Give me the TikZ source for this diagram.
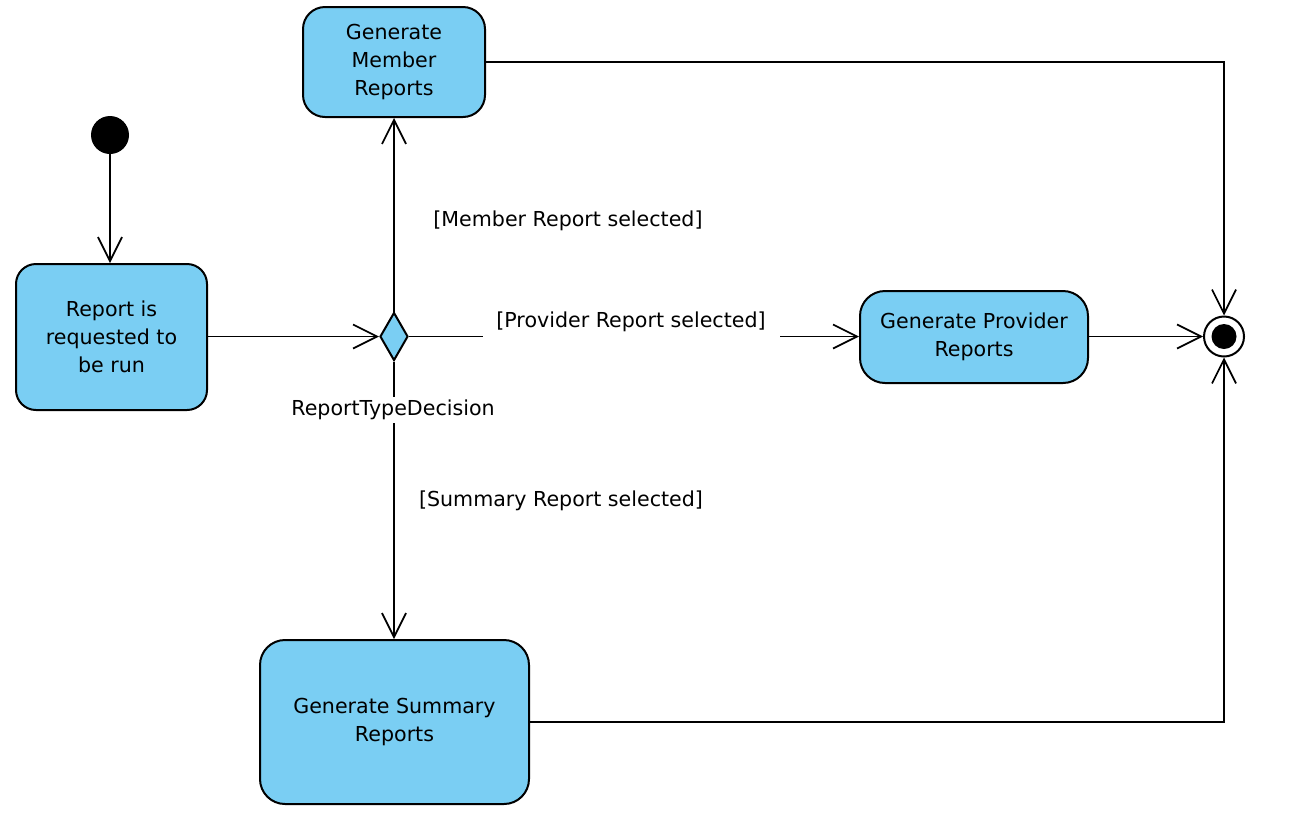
\documentclass[tikz,border=0pt]{standalone}
\usepackage{fontspec}
\setmainfont{DejaVu Sans}
\usetikzlibrary{shapes.geometric,arrows.meta}
\definecolor{actblue}{RGB}{122,206,243}
\tikzset{
  act/.style={draw=black, line width=2pt, fill=actblue, rounded corners=#1, align=center, inner sep=0pt},
  flow/.style={draw=black, line width=1.7pt, -{Straight Barb[length=24pt,width=24pt,line width=1.7pt]}},
  guard/.style={inner sep=0pt, fill=white},
}
\begin{document}
\begin{tikzpicture}[x=1pt,y=-1pt,font=\fontsize{20.6}{28}\selectfont]
\useasboundingbox (0,0) rectangle (1308,820);
% nodes
\node[circle, fill=black, minimum size=38pt, inner sep=0pt] (init) at (110,135) {};
\node[act=20pt, minimum width=191pt, minimum height=146pt] (req) at (111.5,337) {Report is\\requested to\\be run};
\node[diamond, draw=black, line width=2pt, fill=actblue, minimum width=28pt, minimum height=48pt, inner sep=0pt] (dec) at (394,336.5) {};
\node[act=22pt, minimum width=182pt, minimum height=110pt] (member) at (394,62) {Generate\\Member\\Reports};
\node[act=25pt, minimum width=228pt, minimum height=92pt] (provider) at (974,337) {Generate Provider\\Reports};
\node[act=25pt, minimum width=269pt, minimum height=164pt] (summary) at (394.5,722) {Generate Summary\\Reports};
\node[circle, draw=black, line width=2pt, fill=white, minimum size=40pt, inner sep=0pt] (final) at (1224,336.5) {};
\node[circle, fill=black, minimum size=25pt, inner sep=0pt] (finalin) at (final.center) {};
% edges
\draw[flow] (init) -- (init |- req.north);
\draw[flow] (req.east |- dec) -- (dec);
\draw[flow] (dec) -- (member);
\draw[flow] (dec) -- (provider.west |- dec);
\draw[flow] (dec) -- (dec |- summary.north);
\draw[flow] (member.east) -| (final.north);
\draw[flow] (provider.east |- final) -- (final);
\draw[flow] (summary.east) -| (final.south);
% labels
\node[guard] (lmember) at (568,220.5) {[Member Report selected]};
\node[guard, minimum width=297pt, minimum height=38pt] (lprov) at (631,322) {[Provider Report selected]};
\node[guard, minimum height=26pt] (ldec) at (393,410) {ReportTypeDecision};
\node[guard] (lsum) at (561,500.5) {[Summary Report selected]};
\end{tikzpicture}
\end{document}
